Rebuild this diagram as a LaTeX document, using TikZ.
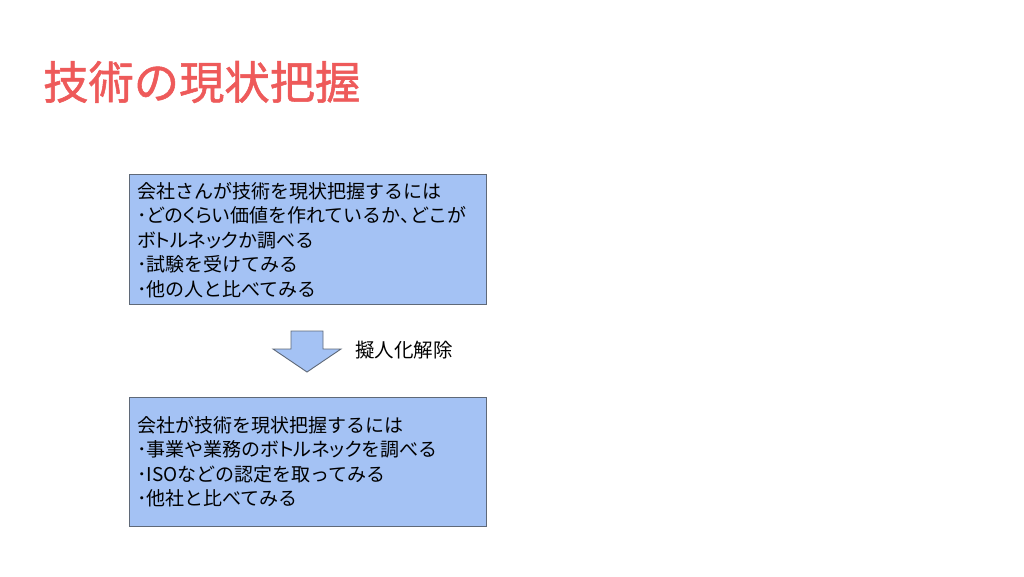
\documentclass[tikz,border=0pt]{standalone}
\usepackage{fontspec}
\newfontfamily\cjk{Noto Sans CJK JP}
\newfontfamily\cjkp{Noto Sans CJK JP}[RawFeature=+palt]
\newfontfamily\cjkt{Noto Sans CJK JP}[FakeBold=1.2]
\newcommand{\pw}[1]{{\cjkp #1}}
\definecolor{titlered}{RGB}{238,90,90}
\definecolor{boxfill}{RGB}{164,194,244}
\definecolor{boxline}{RGB}{95,105,120}
\begin{document}
\begin{tikzpicture}[x=1pt,y=-1pt,
  panel/.style={draw=boxline,line width=0.9pt,fill=boxfill},
  bodytext/.style={inner sep=0pt,anchor=north west,align=left,font=\cjk\fontsize{19}{24.5}\selectfont}]
\useasboundingbox[fill=white] (0,0) rectangle (1024,576);
\node[inner sep=0pt,anchor=west,text=titlered,font=\cjkt\fontsize{45.3}{50}\selectfont] (title) at (43,82) {技術の現状把握};
\draw[panel] (129,174) rectangle (486,304);
\node[bodytext] (t1) at (137,182) {会社さんが技術を現状把握するには\\･\pw{どのくらい}価値を作れているか\pw{、}どこが\\\pw{ボトルネック}か調べる\\･試験を受けてみる\\･他の人と比べてみる};
\filldraw[draw=boxline,line width=0.9pt,fill=boxfill] (291,331) -- (323,331) -- (323,349) -- (341,349) -- (307,372) -- (273,349) -- (291,349) -- cycle;
\node[inner sep=0pt,anchor=west,font=\cjk\fontsize{19.5}{22}\selectfont] (lab) at (355,350) {擬人化解除};
\draw[panel] (129,397) rectangle (486,526);
\node[bodytext] (t2) at (137,416) {会社が技術を現状把握するには\\･事業や業務の\pw{ボトルネック}を調べる\\･ISOなどの認定を取ってみる\\･他社と比べてみる};
\end{tikzpicture}
\end{document}
